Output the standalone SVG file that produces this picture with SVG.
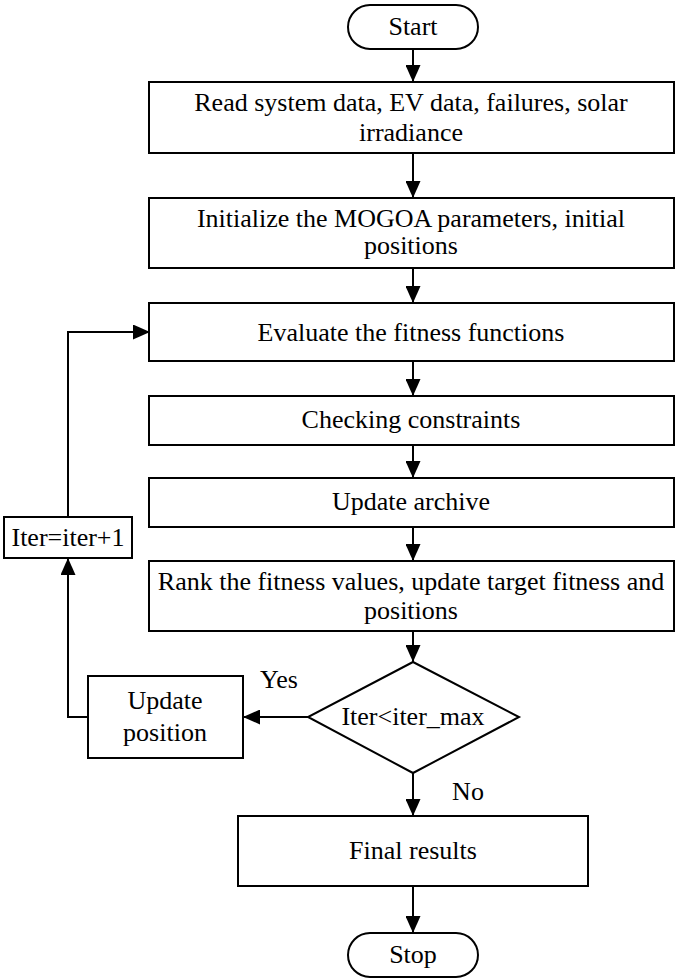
<svg xmlns="http://www.w3.org/2000/svg" width="676" height="980" viewBox="0 0 676 980">
<style>
.b{fill:#fff;stroke:#000;stroke-width:2}
.t{font-family:"Liberation Serif","Times New Roman",serif;font-size:26px;text-anchor:middle;fill:#000}
.c{fill:none;stroke:#000;stroke-width:2}
</style>
<defs>
<marker id="a" markerWidth="17" markerHeight="15" refX="17" refY="7.5" orient="auto" markerUnits="userSpaceOnUse" viewBox="0 0 17 15">
<path d="M0,0 L17,7.5 L0,15 Z" fill="#000"/>
</marker>
</defs>
<rect width="676" height="980" fill="#fff"/>
<g id="connectors">
<line class="c" x1="413" y1="49" x2="413" y2="82" marker-end="url(#a)"/>
<line class="c" x1="413" y1="153" x2="413" y2="198" marker-end="url(#a)"/>
<line class="c" x1="413" y1="268" x2="413" y2="303" marker-end="url(#a)"/>
<line class="c" x1="413" y1="361" x2="413" y2="396" marker-end="url(#a)"/>
<line class="c" x1="413" y1="445" x2="413" y2="478" marker-end="url(#a)"/>
<line class="c" x1="413" y1="527" x2="413" y2="561" marker-end="url(#a)"/>
<line class="c" x1="413" y1="631" x2="413" y2="662" marker-end="url(#a)"/>
<line class="c" x1="413" y1="773" x2="413" y2="816" marker-end="url(#a)"/>
<line class="c" x1="413" y1="886" x2="413" y2="933" marker-end="url(#a)"/>
<line class="c" x1="308" y1="717" x2="243" y2="717" marker-end="url(#a)"/>
<polyline class="c" points="88,717 68,717 68,558" marker-end="url(#a)"/>
<polyline class="c" points="68,517 68,332 150,332" marker-end="url(#a)"/>
</g>
<g id="start"><rect class="b" x="348" y="5" width="130" height="44" rx="22"/><text class="t" x="413" y="35">Start</text></g>
<g id="read"><rect class="b" x="149" y="82" width="525" height="71"/><text class="t" x="411" y="111">Read system data, EV data, failures, solar</text><text class="t" x="411" y="141">irradiance</text></g>
<g id="init"><rect class="b" x="149" y="198" width="525" height="70"/><text class="t" x="411" y="227">Initialize the MOGOA parameters, initial</text><text class="t" x="411" y="254">positions</text></g>
<g id="evaluate"><rect class="b" x="149" y="303" width="525" height="58"/><text class="t" x="411" y="341">Evaluate the fitness functions</text></g>
<g id="check"><rect class="b" x="149" y="396" width="525" height="49"/><text class="t" x="411" y="428">Checking constraints</text></g>
<g id="archive"><rect class="b" x="149" y="478" width="525" height="49"/><text class="t" x="411" y="510">Update archive</text></g>
<g id="rank"><rect class="b" x="149" y="561" width="525" height="70"/><text class="t" x="411" y="590">Rank the fitness values, update target fitness and</text><text class="t" x="411" y="619">positions</text></g>
<g id="iter"><rect class="b" x="4" y="517" width="128" height="41"/><text class="t" x="68" y="546">Iter=iter+1</text></g>
<g id="decision"><polygon class="b" points="413,662 519,717 413,773 308,717"/><text class="t" x="413" y="725">Iter&lt;iter_max</text></g>
<g id="update"><rect class="b" x="88" y="676" width="155" height="82"/><text class="t" x="165" y="709">Update</text><text class="t" x="165" y="741">position</text></g>
<g id="final"><rect class="b" x="238" y="816" width="350" height="70"/><text class="t" x="413" y="859">Final results</text></g>
<g id="stop"><rect class="b" x="348" y="933" width="130" height="44" rx="22"/><text class="t" x="413" y="963">Stop</text></g>
<g id="labels"><text class="t" x="279" y="688">Yes</text><text class="t" x="468" y="800">No</text></g>
</svg>
